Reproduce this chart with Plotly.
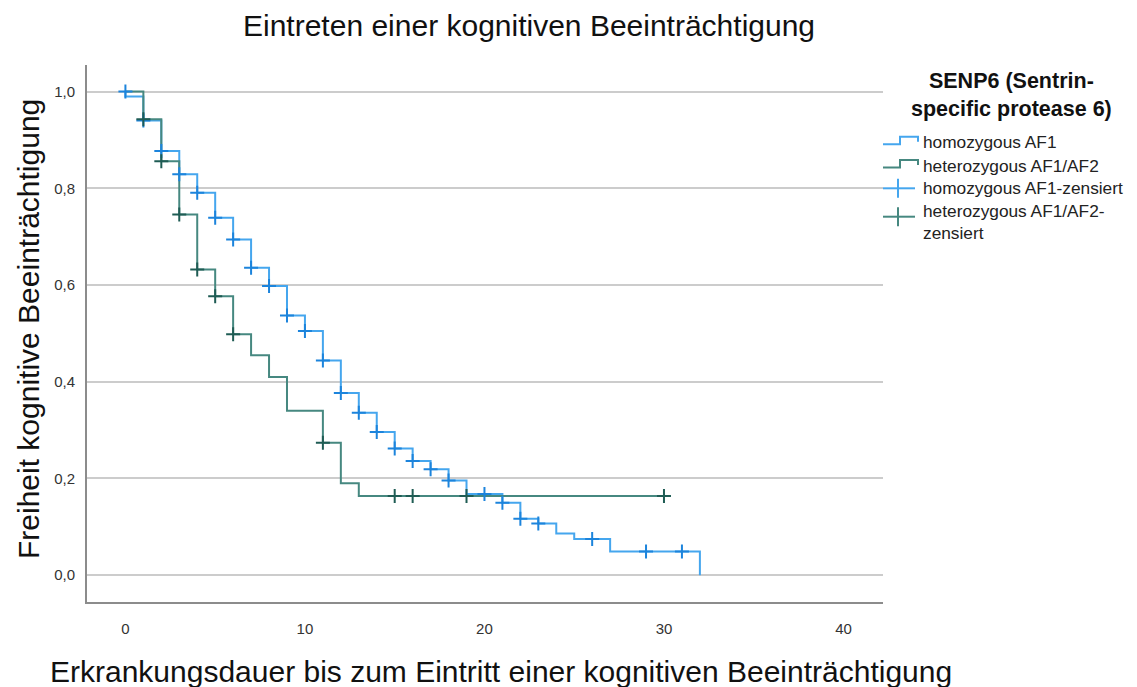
import plotly.graph_objects as go

# ---------------- data ----------------
title_text = "Eintreten einer kognitiven Beeinträchtigung"
x_title = "Erkrankungsdauer bis zum Eintritt einer kognitiven Beeinträchtigung"
y_title = "Freiheit kognitive Beeinträchtigung"
legend_title = "SENP6 (Sentrin-<br>specific protease 6)"
series_names = ["homozygous AF1", "heterozygous AF1/AF2"]
censor_names = ["homozygous AF1-zensiert", "heterozygous AF1/AF2-<br>zensiert"]

x_ticks = [0, 10, 20, 30, 40]
y_ticks = [0.0, 0.2, 0.4, 0.6, 0.8, 1.0]

homo_times = [0, 0, 1, 2, 3, 4, 5, 6, 7, 8, 9, 10, 11, 12, 13, 14, 15, 16, 17, 18, 19,
              21, 22, 23, 24, 25, 27, 32]
homo_surv = [1.0, 0.99, 0.94, 0.877, 0.829, 0.791, 0.739, 0.694, 0.636, 0.598, 0.537, 0.505,
             0.444, 0.377, 0.336, 0.296, 0.262, 0.236, 0.219, 0.196, 0.168,
             0.150, 0.117, 0.107, 0.086, 0.075, 0.049, 0.0]
homo_cens_t = [0, 1, 2, 3, 4, 5, 6, 7, 8, 9, 10, 11, 12, 13, 14, 15, 16, 17, 18,
               20, 21, 22, 23, 26, 29, 31]
homo_cens_s = [1.0, 0.94, 0.877, 0.829, 0.791, 0.739, 0.694, 0.636, 0.598, 0.537, 0.505,
               0.444, 0.377, 0.336, 0.296, 0.262, 0.236, 0.219, 0.196,
               0.168, 0.150, 0.117, 0.107, 0.075, 0.049, 0.049]

het_times = [0, 1, 2, 3, 4, 5, 6, 7, 8, 9, 11, 12, 13, 30]
het_surv = [1.0, 0.943, 0.856, 0.746, 0.632, 0.577, 0.498, 0.455, 0.41, 0.34, 0.274,
            0.19, 0.164, 0.164]
het_cens_t = [1, 2, 3, 4, 5, 6, 11, 15, 16, 19, 30]
het_cens_s = [0.943, 0.856, 0.746, 0.632, 0.577, 0.498, 0.274, 0.164, 0.164, 0.164, 0.164]

# ---------------- styles ----------------
OFF = 8                      # default page body margin
PW, PH = 1137, 687           # page size
W, H = PW - OFF, PH - OFF    # figure size
PL, PR, PT, PB = 87, 883, 65, 602   # plot area in page pixels
ML, MR, MT, MB = PL - OFF, PW - PR, PT - OFF, PH - PB
BLUE = "#45a6ee"
BLUE_D = "#1c84dc"
GREEN = "#468880"
GREEN_D = "#1f5c54"
FONT = "Liberation Sans, Arial, sans-serif"


def px(xp):
    return (xp - PL) / (PR - PL)


def py(yp):
    return (PB - yp) / (PB - PT)


fig = go.Figure()
fig.add_trace(go.Scatter(x=homo_times, y=homo_surv, mode="lines", line_shape="hv",
                         line=dict(color=BLUE, width=2), name=series_names[0]))
fig.add_trace(go.Scatter(x=het_times, y=het_surv, mode="lines", line_shape="hv",
                         line=dict(color=GREEN, width=2), name=series_names[1]))
fig.add_trace(go.Scatter(x=homo_cens_t, y=homo_cens_s, mode="markers",
                         marker=dict(symbol="cross-thin", size=10,
                                     line=dict(color=BLUE_D, width=2)),
                         name=censor_names[0]))
fig.add_trace(go.Scatter(x=het_cens_t, y=het_cens_s, mode="markers",
                         marker=dict(symbol="cross-thin", size=10,
                                     line=dict(color=GREEN_D, width=2)),
                         name=censor_names[1]))

fig.update_layout(
    width=W, height=H,
    margin=dict(l=ML, r=MR, t=MT, b=MB),
    paper_bgcolor="white", plot_bgcolor="white",
    showlegend=False,
    separators=",.",
    font=dict(family=FONT, color="#222"),
)
fig.update_xaxes(range=[-2.14, 42.2], tickvals=x_ticks, showgrid=False, zeroline=False,
                 showline=True, linecolor="#8c8c8c", linewidth=2, ticks="",
                 tickfont=dict(size=15, color="#333"), ticklabelstandoff=12)
fig.update_yaxes(range=[-0.0554, 1.055], tickvals=y_ticks, tickformat=".1f",
                 showgrid=True, gridcolor="#cccccc", gridwidth=2, zeroline=False,
                 showline=True, linecolor="#8c8c8c", linewidth=2, ticks="",
                 tickfont=dict(size=15, color="#333"), ticklabelstandoff=7)

ann = []
ann.append(dict(text=title_text, x=px(529), y=py(25), xref="paper", yref="paper",
                showarrow=False, xanchor="center", yanchor="middle",
                font=dict(size=30, color="#111")))
ann.append(dict(text=x_title, x=px(501), y=py(671), xref="paper", yref="paper",
                showarrow=False, xanchor="center", yanchor="middle",
                font=dict(size=30, color="#111")))
ann.append(dict(text=y_title, x=px(28), y=py(329), xref="paper", yref="paper",
                showarrow=False, xanchor="center", yanchor="middle", textangle=-90,
                font=dict(size=30, color="#111")))
ann.append(dict(text="<b>" + legend_title + "</b>", x=px(1011), y=py(95), xref="paper",
                yref="paper", showarrow=False, xanchor="center", yanchor="middle",
                font=dict(size=21.5, color="#111")))

legend_rows = [(series_names[0], 141.7), (series_names[1], 166),
               (censor_names[0], 188.3), (censor_names[1], 221.7)]
for name, yy in legend_rows:
    ann.append(dict(text=name, x=px(921), y=py(yy), xref="paper", yref="paper",
                    showarrow=False, xanchor="left", yanchor="middle", align="left",
                    font=dict(size=17.3, color="#222")))

shapes = []
for col, yy in [(BLUE, 141.7), (GREEN, 165)]:
    path = "M {} {} L {} {} L {} {} L {} {} L {} {}".format(
        px(883), py(yy + 2.5), px(900), py(yy + 2.5), px(900), py(yy - 5),
        px(918), py(yy - 5), px(918), py(yy))
    shapes.append(dict(type="path", path=path, xref="paper", yref="paper",
                       line=dict(color=col, width=2)))
for col, yy in [(BLUE, 188.3), (GREEN, 216.7)]:
    shapes.append(dict(type="line", x0=px(883), x1=px(915), y0=py(yy), y1=py(yy),
                       xref="paper", yref="paper", line=dict(color=col, width=2)))
    shapes.append(dict(type="line", x0=px(898), x1=px(898), y0=py(yy - 9.5), y1=py(yy + 9.5),
                       xref="paper", yref="paper", line=dict(color=col, width=2)))

fig.update_layout(annotations=ann, shapes=shapes)
fig.write_html("out.html")
